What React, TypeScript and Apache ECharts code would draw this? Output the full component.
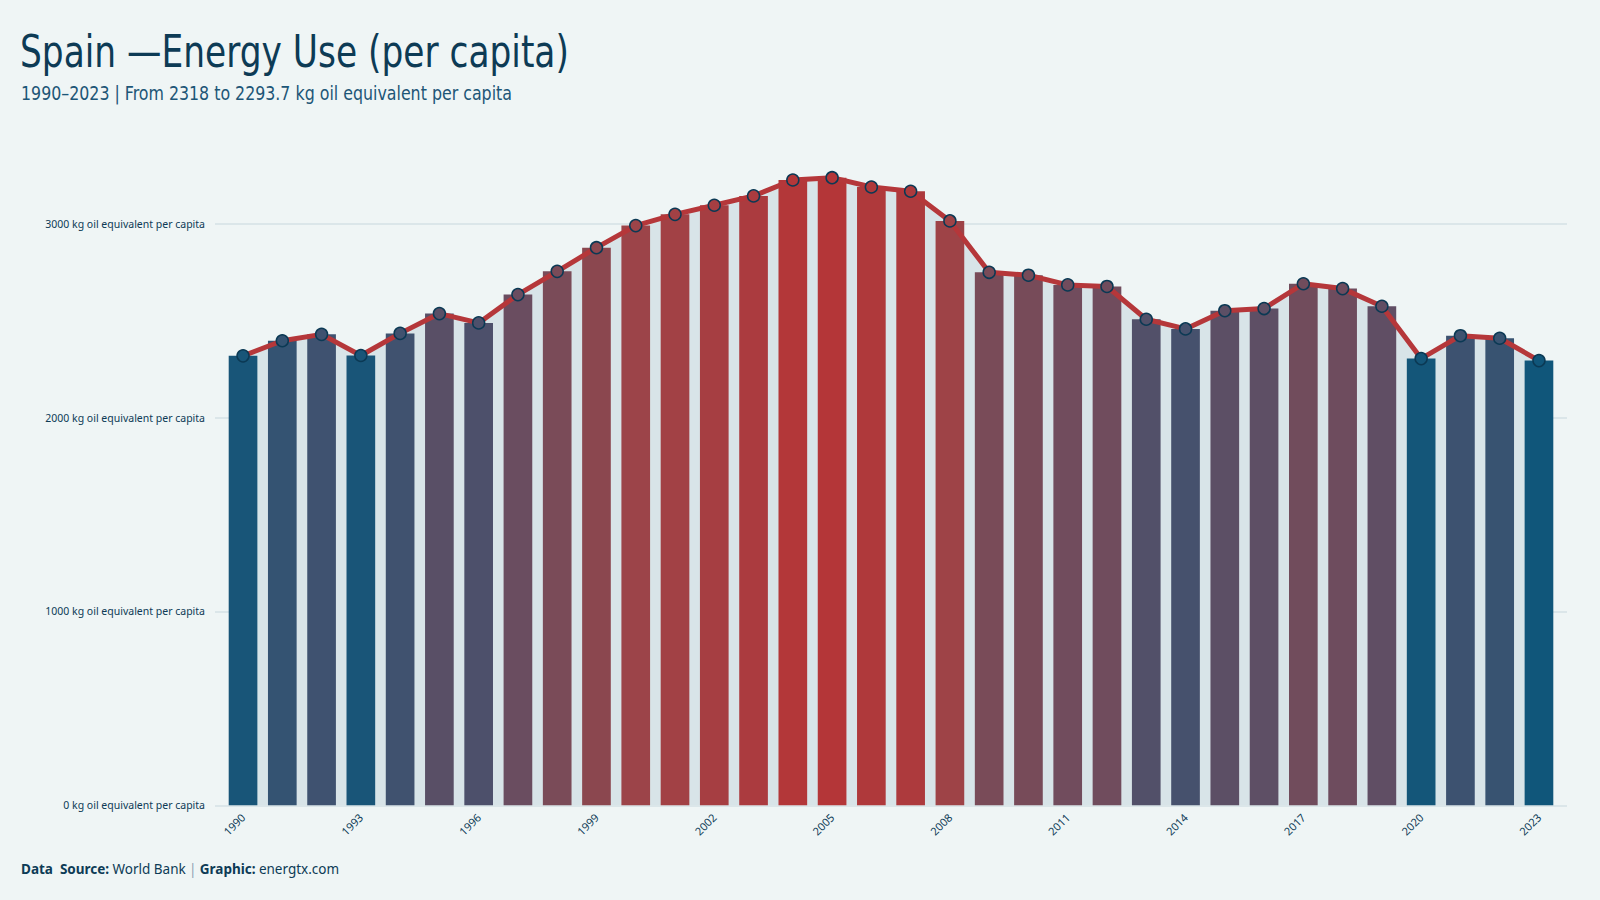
import React, { useEffect, useRef } from "react";
import * as echarts from "echarts";

const years = ["1990", "1991", "1992", "1993", "1994", "1995", "1996", "1997", "1998", "1999", "2000", "2001", "2002", "2003", "2004", "2005", "2006", "2007", "2008", "2009", "2010", "2011", "2012", "2013", "2014", "2015", "2016", "2017", "2018", "2019", "2020", "2021", "2022", "2023"];
const energyUse = [2318, 2396, 2429, 2320, 2434, 2536, 2488, 2634, 2754, 2876, 2990, 3048, 3095, 3143, 3225, 3237, 3189, 3167, 3014, 2749, 2734, 2684, 2676, 2507, 2457, 2551, 2562, 2690, 2665, 2574, 2304, 2422, 2409, 2293.7];
const unitLabel = "kg oil equivalent per capita";
const titleText = "Spain \u2014Energy Use (per capita)";
const subtitleText = "1990\u20132023 | From 2318 to 2293.7 kg oil equivalent per capita";

const colorStops: [number, number[]][] = [
  [0, [16, 86, 122]],
  [0.14, [62, 82, 112]],
  [0.26, [90, 79, 102]],
  [0.36, [106, 77, 96]],
  [0.49, [122, 75, 88]],
  [0.62, [139, 71, 79]],
  [0.74, [156, 68, 73]],
  [1, [180, 54, 56]],
];

function colorFor(v: number, min: number, max: number): string {
  const t = Math.max(0, Math.min(1, (v - min) / (max - min)));
  for (let i = 1; i < colorStops.length; i++) {
    const [t1, c1] = colorStops[i];
    const [t0, c0] = colorStops[i - 1];
    if (t <= t1) {
      const f = (t - t0) / (t1 - t0);
      const c = c0.map((a, k) => Math.round(a + (c1[k] - a) * f));
      return `rgb(${c[0]},${c[1]},${c[2]})`;
    }
  }
  const c = colorStops[colorStops.length - 1][1];
  return `rgb(${c[0]},${c[1]},${c[2]})`;
}

const NAVY = "#0d3b55";
const FONT = "'Noto Sans', 'Open Sans', sans-serif";
const COND = "'DejaVu Sans Condensed', 'Noto Sans', sans-serif";

export default function App() {
  const ref = useRef<HTMLDivElement>(null);
  useEffect(() => {
    document.body.style.margin = "0";
    const chart = echarts.init(ref.current!, null, { renderer: "svg" });
    const min = Math.min(...energyUse);
    const max = Math.max(...energyUse);
    const colored = energyUse.map((v) => ({ value: v, itemStyle: { color: colorFor(v, min, max) } }));
    const dots = energyUse.map((v) => ({
      value: v,
      itemStyle: { color: colorFor(v, min, max), borderColor: "#0b3954", borderWidth: 1.5 },
    }));

    chart.setOption({
      animation: false,
      backgroundColor: "#eff5f5",
      textStyle: { fontFamily: FONT },
      grid: [
        { left: 223.4, top: 126.7, width: 1335.2, height: 678.6 },
        { left: 215, top: 223.7, width: 1352, height: 581.6 },
      ],
      xAxis: [
        {
          type: "category",
          gridIndex: 0,
          data: years,
          axisLine: { show: false },
          axisTick: { show: false },
          axisLabel: { interval: 2, rotate: 45, fontSize: 11, color: NAVY, margin: 10, fontFamily: FONT },
        },
        { type: "value", gridIndex: 1, min: 0, max: 1, show: false },
      ],
      yAxis: [
        { type: "value", gridIndex: 0, min: 0, max: 3500, show: false },
        {
          type: "value",
          gridIndex: 1,
          min: 0,
          max: 3000,
          interval: 1000,
          axisLine: { show: false },
          axisTick: { show: false },
          axisLabel: {
            fontSize: 10.5,
            color: NAVY,
            margin: 10,
            fontFamily: FONT,
            formatter: (v: number) => `${v} ${unitLabel}`,
          },
          splitLine: { lineStyle: { color: "#d5e1e5", width: 1.5 } },
        },
      ],
      graphic: [
        {
          type: "text",
          x: 20,
          y: 29,
          scaleX: 0.85,
          style: { text: titleText, fontSize: 45, fill: NAVY, fontFamily: COND },
        },
        {
          type: "text",
          x: 21,
          y: 83,
          scaleX: 0.88,
          style: { text: subtitleText, fontSize: 20, fill: "#1d5677", fontFamily: COND },
        },
        {
          type: "text",
          left: 21,
          top: 862,
          style: {
            text: "{b|Data  Source:} {n|World Bank} {s||} {b|Graphic:} {n|energtx.com}",
            rich: {
              b: { fontSize: 13.5, fontWeight: "bold", fill: NAVY, fontFamily: FONT },
              n: { fontSize: 13.5, fill: NAVY, fontFamily: FONT },
              s: { fontSize: 13.5, fill: "#8aa3b3", fontFamily: FONT },
            },
          },
        },
      ],
      series: [
        {
          type: "line",
          xAxisIndex: 0,
          yAxisIndex: 0,
          data: energyUse,
          symbol: "none",
          lineStyle: { width: 0 },
          areaStyle: { color: "#d8e4e8", opacity: 1 },
          z: 1,
          silent: true,
        },
        {
          type: "bar",
          xAxisIndex: 0,
          yAxisIndex: 0,
          data: colored,
          barCategoryGap: "27%",
          z: 2,
        },
        {
          type: "line",
          xAxisIndex: 0,
          yAxisIndex: 0,
          data: dots,
          symbol: "circle",
          symbolSize: 12,
          lineStyle: { color: "#b5373a", width: 5 },
          z: 3,
        },
      ],
    });
    return () => chart.dispose();
  }, []);
  return <div ref={ref} style={{ width: 1600, height: 900 }} />;
}
